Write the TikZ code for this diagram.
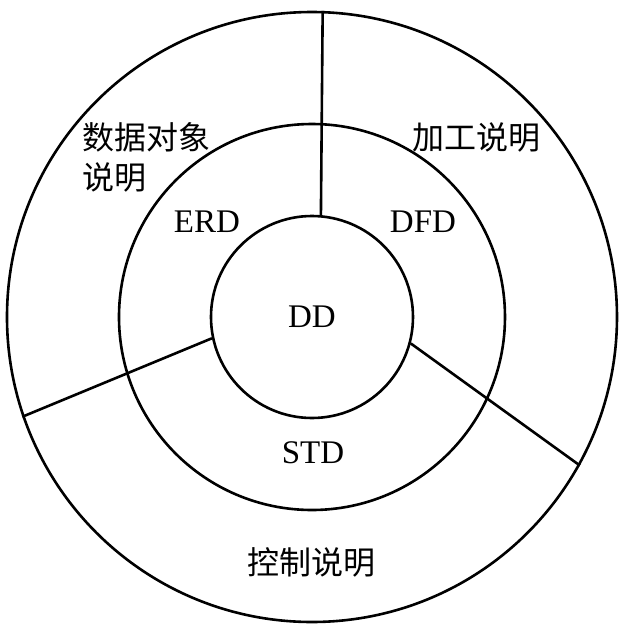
\documentclass[tikz,border=0pt]{standalone}
\usepackage{fontspec}
\setmainfont{Liberation Serif}
\newfontfamily\cjk{Noto Sans CJK SC}
\tikzset{
  ring/.style={circle, draw, line width=1.3pt, inner sep=0pt},
  divider/.style={line width=1.3pt},
  lbl/.style={inner sep=0pt, font=\fontsize{16.5pt}{20pt}\selectfont},
  cjklbl/.style={inner sep=0pt, font=\cjk\fontsize{16pt}{20pt}\selectfont}
}
\begin{document}
\begin{tikzpicture}[x=0.5pt,y=0.5pt]
\useasboundingbox (-312,-312) rectangle (312,317);

% three rings
\node[ring, minimum size=305pt] (outer) at (0,0) {};
\node[ring, minimum size=193pt] (middle) at (0,0) {};
\node[ring, minimum size=101pt, lbl] (dd) at (0,0) {DD};

% dividers
\draw[divider] (dd.85) -- (outer.88.3);
\draw[divider] (dd.192) -- (outer.199.5);
\draw[divider] (dd.345.4) -- (outer.331.4);

% middle ring
\node[lbl] (erd) at (-105,95) {ERD};
\node[lbl] (dfd) at (111,95) {DFD};
\node[lbl] (std) at (1,-136) {STD};

% outer ring
\node[cjklbl, align=left, anchor=west] (objdesc) at (-230,160) {数据对象\\说明};
\node[cjklbl] (procdesc) at (165,180) {加工说明};
\node[cjklbl] (ctrldesc) at (0,-245) {控制说明};
\end{tikzpicture}
\end{document}
